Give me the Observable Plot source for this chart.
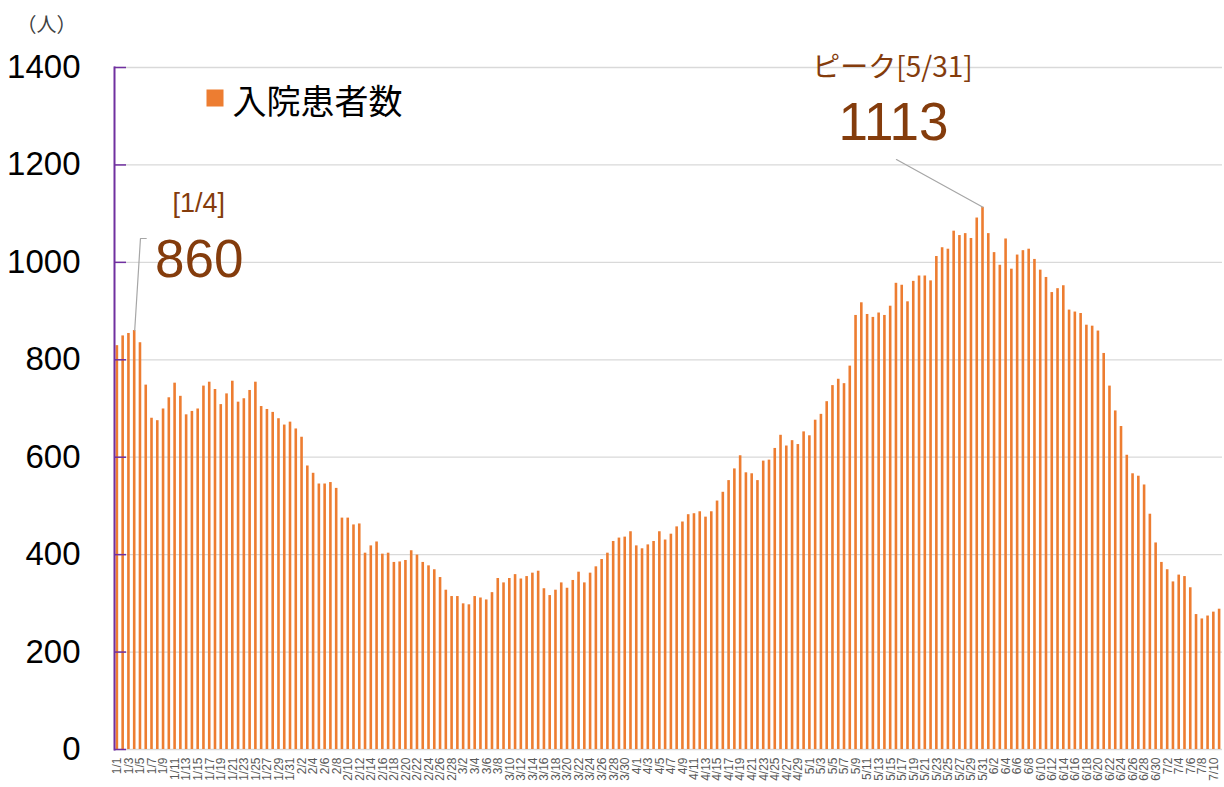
<!DOCTYPE html>
<html>
<head>
<meta charset="utf-8">
<script src="https://cdn.jsdelivr.net/npm/d3@7"></script>
<script src="https://cdn.jsdelivr.net/npm/@observablehq/plot@0.6"></script>
<style>
  html, body { margin: 0; padding: 0; background: #ffffff; }
  #chart svg { display: block; }
</style>
</head>
<body>
<div id="chart"></div>
<script>
// ---- Data: daily inpatient counts (入院患者数), 1/1 – 7/11 ----
const jan = [829, 849, 854, 860, 835, 748, 680, 675, 699, 722, 752, 725, 687, 694, 699, 746, 754, 739, 708, 730, 756, 713, 720, 737, 754, 704, 698, 692, 679, 666, 672];
const feb = [658, 641, 582, 567, 545, 545, 548, 536, 475, 475, 461, 463, 403, 418, 426, 401, 403, 384, 385, 388, 408, 399, 384, 377, 369, 353, 327, 314];
const mar = [314, 299, 297, 314, 311, 307, 322, 351, 342, 351, 359, 350, 355, 362, 366, 330, 316, 327, 342, 331, 347, 364, 342, 362, 375, 390, 403, 427, 434, 436, 447];
const apr = [418, 412, 420, 427, 447, 430, 442, 457, 467, 482, 484, 488, 477, 488, 510, 528, 552, 576, 603, 568, 566, 552, 592, 594, 618, 645, 623, 634, 626, 652];
const may = [644, 676, 688, 714, 747, 760, 751, 787, 891, 917, 893, 887, 896, 891, 910, 957, 953, 919, 961, 972, 972, 962, 1012, 1030, 1027, 1064, 1055, 1059, 1049, 1091, 1113];
const jun = [1059, 1020, 994, 1048, 986, 1015, 1024, 1027, 1006, 984, 969, 938, 946, 952, 902, 898, 895, 871, 869, 859, 813, 746, 695, 663, 604, 566, 561, 543, 483, 424];
const jul = [384, 369, 344, 358, 355, 332, 277, 268, 274, 282, 288];

const monthNumbers = [1, 2, 3, 4, 5, 6, 7];
const monthSeries = [jan, feb, mar, apr, may, jun, jul];

// categories (M/D) and values
const dates = [];
const values = [];
monthSeries.forEach((arr, mi) => arr.forEach((v, di) => {
  dates.push(`${monthNumbers[mi]}/${di + 1}`);
  values.push(v);
}));
const data = dates.map((d, i) => ({date: d, value: values[i]}));

// tick labels
const xTickLabels = dates.filter((d, i) => i % 2 === 0);
const yTicks = [0, 200, 400, 600, 800, 1000, 1200, 1400];

// texts
const seriesName = "入院患者数";
const unitLabel = "（人）";
const annotations = [
  {date: "1/4", value: 860, head: "[1/4]", num: "860"},
  {date: "5/31", value: 1113, head: "ピーク[5/31]", num: "1113"}
];
const leaderStart = [{date: "1/4", value: 860}, {date: "1/5", value: 1049}, {date: "1/6", value: 1049}];
const leaderPeak = [{date: "5/31", value: 1113}, {date: "5/16", value: 1211}];

// ---- Styles ----
const orange = "#ED7D31";
const brown = "#843C0C";
const purple = "#7030A0";
const grid = "#d9d9d9";
const latin = "'Liberation Sans', Arial, sans-serif";
const cjk = "'Noto Sans CJK JP', 'Noto Sans', sans-serif";

const chart = Plot.plot({
  width: 1224,
  height: 787,
  marginTop: 67,
  marginBottom: 38,
  marginLeft: 114,
  marginRight: 2,
  style: {fontFamily: latin, background: "#ffffff", overflow: "visible"},
  x: {type: "band", domain: dates, paddingInner: 0.55, paddingOuter: 0.275, label: null},
  y: {domain: [0, 1400], label: null},
  marks: [
    Plot.gridY(yTicks, {stroke: grid, strokeOpacity: 1, strokeWidth: 1.3}),
    Plot.barY(data, {x: "date", y: "value", fill: orange}),
    Plot.frame({anchor: "left", stroke: purple, strokeWidth: 2}),
    Plot.axisY(yTicks, {
      tickSize: -12, tickPadding: 46, stroke: purple, strokeWidth: 1.5,
      fill: "#000", fontSize: 33, label: null, tickFormat: d => String(d)
    }),
    Plot.axisX(xTickLabels, {
      tickSize: 0, tickRotate: -90, tickPadding: 8, fontSize: 12,
      fill: "#595959", label: null
    }),
    // unit label
    Plot.text([unitLabel], {
      frameAnchor: "top-left", dx: -68, dy: -50, fontSize: 20,
      fontFamily: cjk, fill: "#404040", textAnchor: "middle"
    }),
    // legend
    Plot.dot([seriesName], {
      frameAnchor: "top-left", dx: 100.5, dy: 30.5, symbol: "square", r: 9.6, fill: orange
    }),
    Plot.text([seriesName], {
      frameAnchor: "top-left", dx: 118, dy: 22, fontSize: 34, fontFamily: cjk,
      fill: "#000", textAnchor: "start"
    }),
    // leader lines
    Plot.line(leaderStart, {x: "date", y: "value", stroke: "#a6a6a6", strokeWidth: 1.2}),
    Plot.line(leaderPeak, {x: "date", y: "value", stroke: "#a6a6a6", strokeWidth: 1.2}),
    // annotations
    Plot.text(annotations.slice(0, 1), {x: "date", y: "value", text: "head", dx: 64, dy: -127, fontSize: 27, fill: brown}),
    Plot.text(annotations.slice(0, 1), {x: "date", y: "value", text: "num", dx: 64.5, dy: -71, fontSize: 53, fill: brown}),
    Plot.text(annotations.slice(1), {x: "date", y: "value", text: "head", dx: -90.5, dy: -139, fontSize: 28, fill: brown, fontFamily: cjk}),
    Plot.text(annotations.slice(1), {x: "date", y: "value", text: "num", dx: -89.5, dy: -84, fontSize: 53, fill: brown})
  ]
});

document.getElementById("chart").appendChild(chart);
</script>
</body>
</html>
